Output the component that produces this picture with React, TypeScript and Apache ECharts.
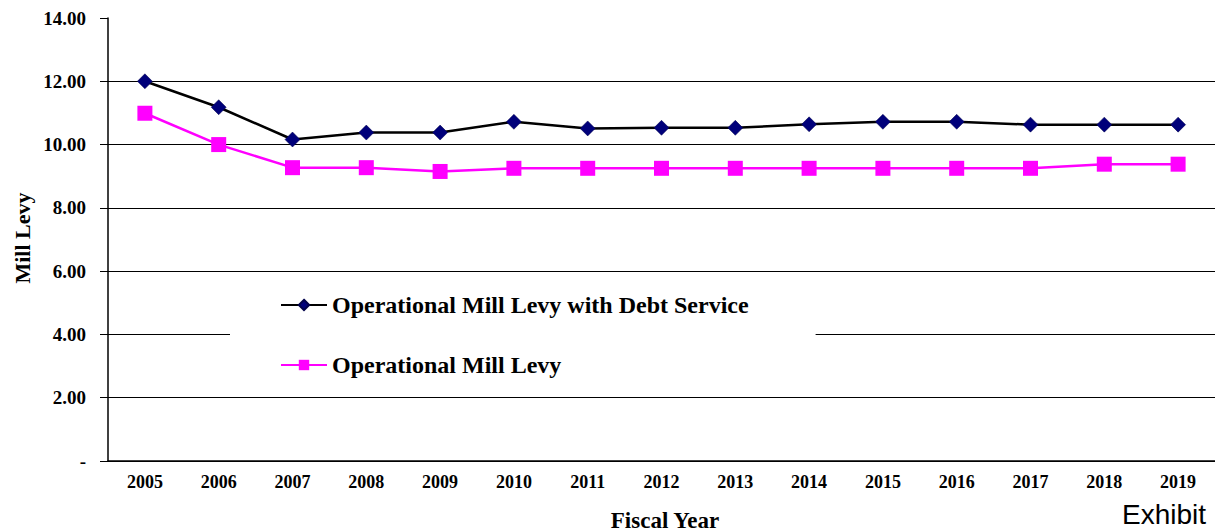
import React, { useEffect, useRef } from "react";
import * as echarts from "echarts";

const years = ["2005","2006","2007","2008","2009","2010","2011","2012","2013","2014","2015","2016","2017","2018","2019"];
const withDebt = [12.0, 11.18, 10.16, 10.38, 10.38, 10.72, 10.51, 10.53, 10.53, 10.64, 10.72, 10.72, 10.63, 10.63, 10.63];
const operational = [10.99, 10.0, 9.27, 9.27, 9.15, 9.25, 9.25, 9.25, 9.25, 9.25, 9.25, 9.25, 9.25, 9.38, 9.38];
const seriesNames = ["Operational Mill Levy with Debt Service", "Operational Mill Levy"];

const SERIF = "'Liberation Serif', 'Times New Roman', serif";

export default function App() {
  const ref = useRef<HTMLDivElement>(null);
  useEffect(() => {
    if (!ref.current) return;
    const chart = echarts.init(ref.current, null, { renderer: "svg" });
    chart.setOption({
      animation: false,
      backgroundColor: "#fff",
      grid: { left: 108, top: 18, bottom: 70, right: -7 },
      xAxis: {
        type: "category",
        data: years,
        boundaryGap: true,
        axisTick: { show: false },
        axisLine: { lineStyle: { color: "#000", width: 1.5 } },
        axisLabel: { color: "#000", fontFamily: SERIF, fontWeight: "bold", fontSize: 18, margin: 12 },
      },
      yAxis: {
        type: "value",
        min: 0,
        max: 14,
        interval: 2,
        axisLine: { show: true, lineStyle: { color: "#000", width: 1.5 } },
        axisTick: { show: true, length: 8, lineStyle: { color: "#000" } },
        axisLabel: {
          color: "#000",
          fontFamily: SERIF,
          fontWeight: "bold",
          fontSize: 19,
          margin: 22,
          formatter: (v: number) => (v === 0 ? "-" : v.toFixed(2)),
        },
        splitLine: {
          show: true,
          lineStyle: {
            color: ["#000", "#000", "#000", "#000", "#000", "#000", "#000", "rgba(0,0,0,0)"],
            width: 1,
          },
        },
      },
      legend: {
        orient: "vertical",
        left: 230,
        top: 285,
        backgroundColor: "#fff",
        padding: [8, 67, 12, 50],
        itemGap: 36,
        itemWidth: 46,
        itemHeight: 13,
        data: seriesNames,
        textStyle: { color: "#000", fontFamily: SERIF, fontWeight: "bold", fontSize: 24 },
      },
      series: [
        {
          name: seriesNames[0],
          type: "line",
          data: withDebt,
          symbol: "diamond",
          symbolSize: 15,
          itemStyle: { color: "#00007a", borderColor: "#00004a", borderWidth: 0.5 },
          lineStyle: { color: "#000", width: 2.5 },
          z: 3,
        },
        {
          name: seriesNames[1],
          type: "line",
          data: operational,
          symbol: "rect",
          symbolSize: 15,
          itemStyle: { color: "#ff00ff" },
          lineStyle: { color: "#ff00ff", width: 2.5 },
          z: 2,
        },
      ],
      graphic: [
        {
          type: "text",
          x: 22,
          y: 238,
          rotation: Math.PI / 2,
          style: {
            text: "Mill Levy",
            fontFamily: SERIF,
            fontWeight: "bold",
            fontSize: 22,
            fill: "#000",
            align: "center",
            verticalAlign: "middle",
          },
        },
        {
          type: "text",
          x: 665,
          y: 520,
          style: {
            text: "Fiscal Year",
            fontFamily: SERIF,
            fontWeight: "bold",
            fontSize: 23,
            fill: "#000",
            align: "center",
            verticalAlign: "middle",
          },
        },
        {
          type: "text",
          x: 1122,
          y: 500,
          style: { text: "Exhibit", fontFamily: "'Liberation Sans', Arial, sans-serif", fontSize: 28, fill: "#000" },
        },
      ],
    });
    return () => chart.dispose();
  }, []);
  return <div ref={ref} style={{ position: "fixed", left: 0, top: 0, width: 1215, height: 531 }} />;
}
